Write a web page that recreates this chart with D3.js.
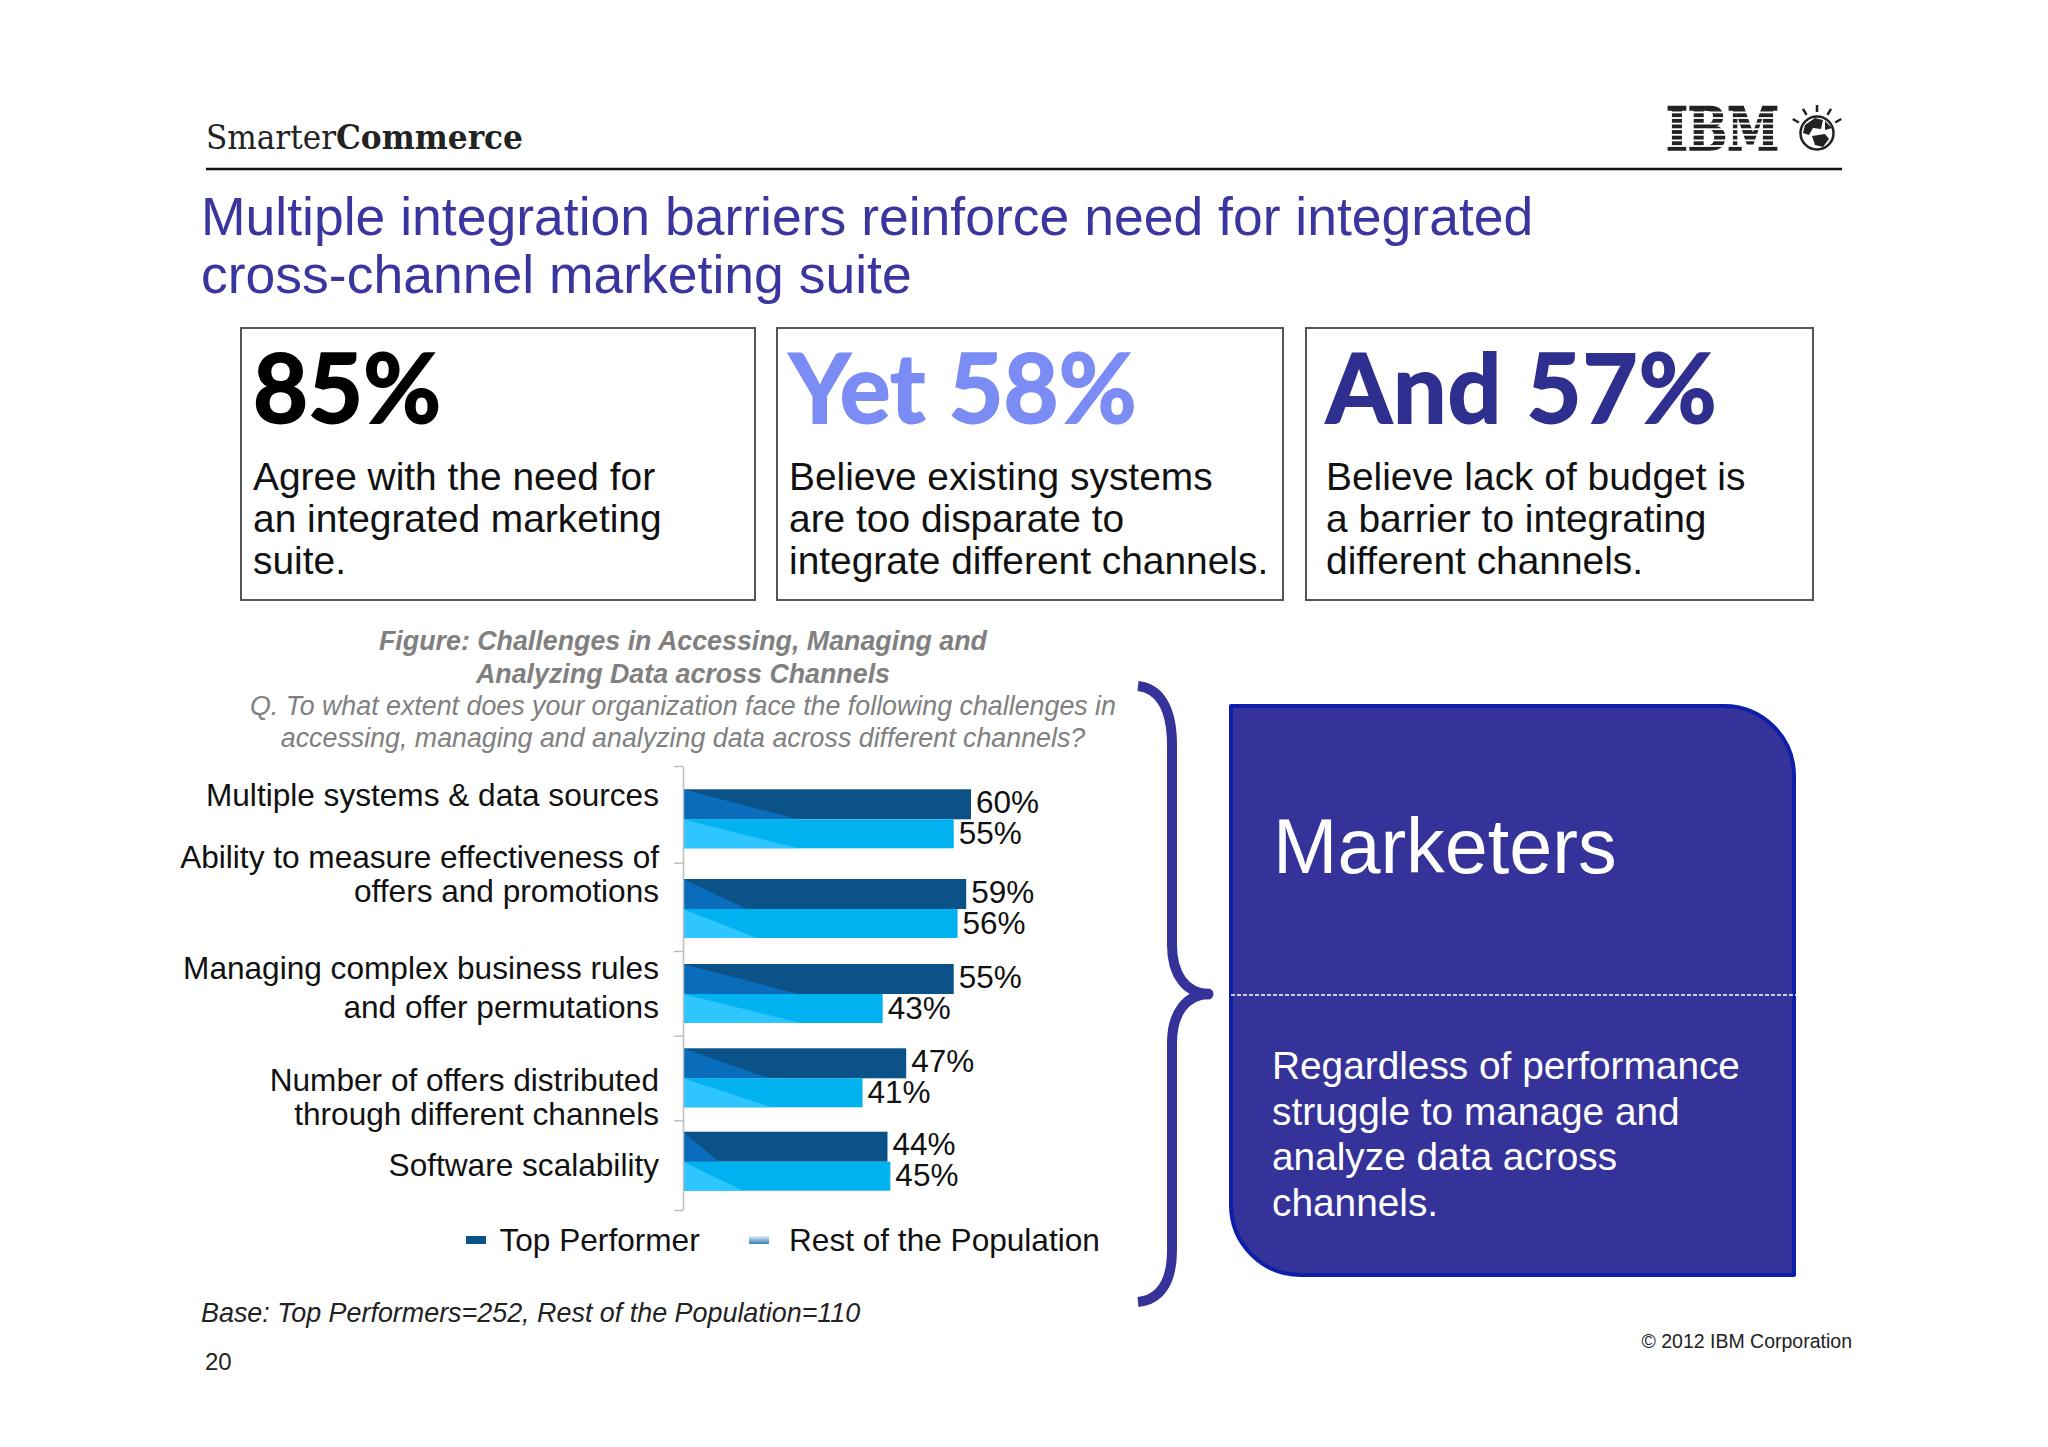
<!DOCTYPE html>
<html>
<head>
<meta charset="utf-8">
<script src="https://cdn.jsdelivr.net/npm/d3@7"></script>
<style>
  html, body { margin: 0; padding: 0; background: #fff; }
  text { font-family: "Liberation Sans", Arial, sans-serif; }
</style>
</head>
<body>
<div id="chart"></div>
<script>
var categories = ['Multiple systems & data sources', 'Ability to measure effectiveness of offers and promotions',
  'Managing complex business rules and offer permutations', 'Number of offers distributed through different channels', 'Software scalability'];
var topLabels = ['60%', '59%', '55%', '47%', '44%'];
var restLabels = ['55%', '56%', '43%', '41%', '45%'];
// bar lengths: the original bars do not quite follow their printed labels
var topValues = [60, 59, 56.4, 46.5, 42.6];
var restValues = [56.4, 57.2, 41.6, 37.4, 43.2];
var seriesNames = ['Top Performer', 'Rest of the Population'];

// wrapped axis labels
var categoryLines = [['Multiple systems & data sources'], ['Ability to measure effectiveness of', 'offers and promotions'],
  ['Managing complex business rules', 'and offer permutations'], ['Number of offers distributed', 'through different channels'], ['Software scalability']];
var labelBaselines = [[806], [868, 902], [979, 1018], [1091, 1125], [1176]];

// gloss wedge on the left of each bar, in the same units as the bars
var glossTop = [24, 13.3, 24, 18, 7.5];
var glossRest = [24, 15.4, 24.5, 18.5, 12.5];

var callouts = [
  { x: 241, w: 514, head: '85%', color: '#000000', lines: ['Agree with the need for', 'an integrated marketing', 'suite.'] },
  { x: 777, w: 506, head: 'Yet 58%', color: '#7b8cf5', lines: ['Believe existing systems', 'are too disparate to', 'integrate different channels.'] },
  { x: 1306, w: 507, head: 'And 57%', color: '#2f2f8f', lines: ['Believe lack of budget is', 'a barrier to integrating', 'different channels.'] }
];

var w = 2048, h = 1447;
var svg = d3.select('#chart').append('svg').attr('width', w).attr('height', h).style('display', 'block');
var defs = svg.append('defs');
var grad = defs.append('linearGradient').attr('id', 'restSwatch').attr('x1', 0).attr('y1', 0).attr('x2', 0).attr('y2', 1);
grad.append('stop').attr('offset', '0%').attr('stop-color', '#e8eef4');
grad.append('stop').attr('offset', '100%').attr('stop-color', '#2f7fb5');

function addText(x, y, str, size, fill, anchor) {
  return svg.append('text').attr('x', x).attr('y', y).text(str)
    .attr('font-size', size).attr('fill', fill).attr('text-anchor', anchor || 'start');
}

// header
addText(206, 149, 'Smarter', 34, '#222').style('font-family', '"DejaVu Serif"').style('font-weight', 300).attr('textLength', 130).attr('lengthAdjust', 'spacingAndGlyphs');
addText(336, 149, 'Commerce', 33, '#222').style('font-family', '"DejaVu Serif"').style('font-weight', 700).attr('textLength', 187).attr('lengthAdjust', 'spacingAndGlyphs');
svg.append('line').attr('x1', 206).attr('x2', 1842).attr('y1', 169).attr('y2', 169).attr('stroke', '#111').attr('stroke-width', 2.5);

// IBM logo, striped with white rules
addText(1666, 150, 'IBM', 60, '#222').style('font-family', '"DejaVu Serif"').style('font-weight', 700)
  .attr('stroke', '#222').attr('stroke-width', 1.6).attr('textLength', 113).attr('lengthAdjust', 'spacingAndGlyphs');
d3.range(7).forEach(function(i) {
  svg.append('rect').attr('x', 1660).attr('width', 125).attr('y', 111.5 + i * 5.6).attr('height', 1.8).attr('fill', '#fff');
});
var globe = svg.append('g').attr('transform', 'translate(1817,133)');
globe.append('circle').attr('r', 16.5).attr('fill', '#fff').attr('stroke', '#222').attr('stroke-width', 2.5);
globe.append('path').attr('fill', '#222').attr('d', 'M-12,-8 L-2,-15 L6,-13 L4,-4 L-4,-5 L-8,2 L-14,0 Z M-5,3 L8,1 L12,6 L6,14 L-2,12 Z M8,-12 L15,-5 L8,-3 Z');
d3.range(5).forEach(function(i) {
  var a = (-150 + i * 30) * Math.PI / 180;
  globe.append('line').attr('x1', Math.cos(a) * 21).attr('y1', Math.sin(a) * 21)
    .attr('x2', Math.cos(a) * 28).attr('y2', Math.sin(a) * 28).attr('stroke', '#222').attr('stroke-width', 2.5);
});

// title
addText(201, 235, 'Multiple integration barriers reinforce need for integrated', 53.5, '#3b35a0');
addText(201, 293, 'cross-channel marketing suite', 53.5, '#3b35a0');

// callout boxes
callouts.forEach(function(c, i) {
  svg.append('rect').attr('x', c.x).attr('y', 328).attr('width', c.w).attr('height', 272)
    .attr('fill', '#fff').attr('stroke', '#555').attr('stroke-width', 2);
  var tx = c.x + 12 + (i == 2 ? 8 : 0);
  addText(tx, 423, c.head, 95, c.color).style('font-family', 'Lato').style('font-weight', 700)
    .attr('stroke', c.color).attr('stroke-width', 1.8).style('letter-spacing', i == 2 ? '1px' : '0');
  c.lines.forEach(function(line, j) {
    addText(tx, 490 + j * 42, line, 38.9, '#111');
  });
});

// figure heading
var grey = '#808080';
addText(683, 650, 'Figure: Challenges in Accessing, Managing and', 26.8, grey, 'middle').style('font-weight', 700).style('font-style', 'italic');
addText(683, 683, 'Analyzing Data across Channels', 26.8, grey, 'middle').style('font-weight', 700).style('font-style', 'italic');
addText(683, 715, 'Q. To what extent does your organization face the following challenges in', 26.8, grey, 'middle').style('font-style', 'italic');
addText(683, 747, 'accessing, managing and analyzing data across different channels?', 26.8, grey, 'middle').style('font-style', 'italic');

// bar chart, rows are not evenly spaced in the source so both row scales are piecewise
var x = d3.scaleLinear().domain([0, 60]).range([683, 971]);
var rowJoint = d3.scaleLinear().domain(d3.range(5)).range([819.3, 909, 994, 1078.3, 1161.7]);
var rowEdge = d3.scaleLinear().domain(d3.range(6)).range([766, 862.7, 951, 1035.7, 1120.3, 1210]);
var topH = 30, restH = 29;

var rows = svg.append('g').selectAll('g').data(categories).enter().append('g')
  .attr('transform', function(d, i) { return 'translate(0,' + rowJoint(i) + ')'; });

function drawBars(values, gloss, labels, y0, barH, fill, wedge, labelY) {
  rows.append('rect').attr('x', x(0)).attr('y', y0)
    .attr('width', function(d, i) { return x(values[i]) - x(0); })
    .attr('height', barH).attr('fill', fill);
  rows.append('path').attr('fill', wedge).attr('d', function(d, i) {
    return d3.line()([[x(0), y0], [x(gloss[i]), y0 + barH], [x(0), y0 + barH]]) + 'Z';
  });
  rows.append('text').attr('x', function(d, i) { return x(values[i]) + 5; })
    .attr('y', labelY).attr('font-size', 31.5).attr('fill', '#111')
    .text(function(d, i) { return labels[i]; });
}
drawBars(topValues, glossTop, topLabels, -topH, topH, '#0a5288', '#0a6dbb', -6.5);
drawBars(restValues, glossRest, restLabels, 0, restH, '#00b3f0', '#2fc6ff', 24.5);

// axis with ticks between the rows
var axis = svg.append('g').attr('transform', 'translate(' + x(0) + ',0)')
  .call(d3.axisLeft(rowEdge).tickValues(d3.range(6)).tickSize(9).tickSizeOuter(0).tickFormat(''));
axis.selectAll('line, path').attr('stroke', '#bdbdbd').attr('stroke-width', 1.5);

categoryLines.forEach(function(lines, i) {
  lines.forEach(function(line, j) {
    addText(659, labelBaselines[i][j], line, 31.6, '#111', 'end');
  });
});

// legend
svg.append('rect').attr('x', 466).attr('y', 1236).attr('width', 20).attr('height', 8).attr('fill', '#0a5288');
addText(499.5, 1251, seriesNames[0], 31.6, '#111');
svg.append('rect').attr('x', 749).attr('y', 1236).attr('width', 20).attr('height', 8).attr('fill', 'url(#restSwatch)');
addText(789, 1251, seriesNames[1], 31.6, '#111');

// brace
svg.append('path').attr('fill', 'none').attr('stroke', '#353399').attr('stroke-width', 10).attr('stroke-linejoin', 'round')
  .attr('d', 'M1138,686 C1158,688 1172,706 1172,745 L1172,945 C1172,975 1186,993 1208,994 C1186,995 1172,1013 1172,1043 L1172,1250 C1172,1285 1158,1300 1138,1302');
svg.append('circle').attr('cx', 1208).attr('cy', 994).attr('r', 5.5).attr('fill', '#353399');

// Marketers panel
svg.append('path').attr('fill', '#353399').attr('stroke', '#0d1fa8').attr('stroke-width', 4).attr('stroke-linejoin', 'round')
  .attr('d', 'M1231,706 H1724 A70,70 0 0 1 1794,776 V1275 H1301 A70,70 0 0 1 1231,1205 Z');
svg.append('line').attr('x1', 1231).attr('x2', 1796).attr('y1', 995).attr('y2', 995)
  .attr('stroke', '#fff').attr('stroke-width', 1.5).attr('stroke-dasharray', '4,2');
addText(1273, 873, 'Marketers', 77.3, '#fff');
['Regardless of performance', 'struggle to manage and', 'analyze data across', 'channels.'].forEach(function(line, i) {
  addText(1272, 1079 + i * 45.7, line, 38.8, '#fff');
});

// footer
addText(201, 1321.5, 'Base: Top Performers=252, Rest of the Population=110', 26.9, '#222').style('font-style', 'italic');
addText(205, 1370, '20', 24, '#222');
addText(1852, 1348, '\u00a9 2012 IBM Corporation', 19.5, '#222', 'end');
</script>
</body>
</html>
